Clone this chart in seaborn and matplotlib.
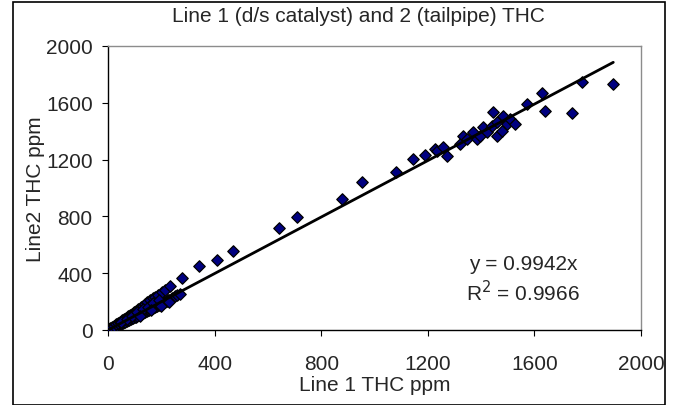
import numpy as np
import pandas as pd
import matplotlib
matplotlib.use('Agg')
import matplotlib.pyplot as plt
import seaborn as sns
from matplotlib.patches import Rectangle

# --- data (ppm) ---
# lower band along the trend line, 0-270 ppm
low_x = [5, 10, 15, 20, 25, 30, 35, 40, 45, 50, 55, 60, 65, 70, 75, 80, 85, 90, 95, 100,
         105, 110, 115, 120, 125, 130, 135, 140, 145, 150, 155, 160, 165, 170, 175, 180,
         185, 190, 195, 200, 205, 210, 215, 220, 225, 230, 240, 250, 260, 270]
low_y = [5, 8, 12, 15, 22, 26, 30, 36, 40, 44, 50, 55, 58, 64, 68, 72, 78, 82, 86, 92,
         95, 100, 104, 110, 114, 118, 124, 128, 134, 138, 142, 148, 152, 158, 162, 166,
         172, 176, 180, 186, 190, 195, 200, 206, 210, 214, 222, 236, 246, 254]
# upper band (line 2 above line 1)
up_x = [8, 15, 22, 30, 38, 45, 52, 60, 68, 75, 82, 90, 98, 105, 114, 122, 130, 139, 148,
        158, 168, 176, 188, 201, 215, 233, 279]
up_y = [14, 22, 30, 40, 50, 58, 68, 78, 88, 98, 106, 116, 128, 136, 150, 160, 172, 186, 196,
        210, 222, 234, 248, 265, 285, 312, 366]
mid_x = [50, 70, 90, 110, 130, 150, 170, 190, 120, 160, 200, 230]
mid_y = [55, 80, 100, 125, 145, 165, 190, 210, 100, 140, 170, 200]
# scattered mid-range points
sc_x = [341, 410, 470, 642, 708, 877, 954, 1080, 1143, 1190]
sc_y = [448, 495, 558, 718, 793, 922, 1040, 1110, 1204, 1232]
# high cluster
hi_x = [1227, 1233, 1258, 1271, 1321, 1333, 1346, 1371, 1383, 1396, 1408, 1421, 1440, 1446,
        1458, 1458, 1477, 1483, 1496, 1508, 1527, 1571, 1627, 1640, 1740, 1777, 1896]
hi_y = [1275, 1263, 1286, 1228, 1310, 1369, 1345, 1392, 1345, 1369, 1427, 1392, 1439, 1533,
        1462, 1369, 1404, 1509, 1451, 1486, 1451, 1590, 1667, 1544, 1526, 1744, 1735]

slope = 0.9942
r2 = 0.9966

df = pd.DataFrame({
    'line1': low_x + up_x + mid_x + sc_x + hi_x,
    'line2': low_y + up_y + mid_y + sc_y + hi_y,
})

sns.set_style('white')
plt.rcParams['font.family'] = ['Liberation Sans', 'DejaVu Sans']
fs = 15

fig = plt.figure(figsize=(6.75, 4.06), dpi=100)
ax = fig.add_axes([108 / 675, 1 - 331 / 406, (641 - 108) / 675, (331 - 47) / 406])

sns.scatterplot(data=df, x='line1', y='line2', marker='D', s=34, color='#000080',
                edgecolor='black', linewidth=0.9, ax=ax, zorder=3, legend=False)

# trend line through origin
xl = np.array([0, df['line1'].max()])
ax.plot(xl, slope * xl, color='black', lw=2, zorder=4)

ax.set_xlim(0, 2000)
ax.set_ylim(0, 2000)
ax.set_xticks(range(0, 2001, 400))
ax.set_yticks(range(0, 2001, 400))
ax.tick_params(axis='both', direction='out', length=4, width=0.8, labelsize=fs,
               color='black', left=True, bottom=True)
ax.tick_params(axis='x', pad=13)
ax.tick_params(axis='y', pad=7)
for s in ['left', 'bottom']:
    ax.spines[s].set_color('black')
    ax.spines[s].set_linewidth(1)
for s in ['top', 'right']:
    ax.spines[s].set_color('#8c8c8c')
    ax.spines[s].set_linewidth(1)

ax.set_xlabel('Line 1 THC ppm', fontsize=fs, labelpad=2)
ax.set_ylabel('Line2 THC ppm', fontsize=fs, labelpad=1)

fig.text(358 / 675, 1 - 17 / 406, 'Line 1 (d/s catalyst) and 2 (tailpipe) THC',
         ha='center', va='center', fontsize=fs)
fig.text(523 / 675, 1 - 265 / 406, 'y = %.4fx' % slope, ha='center', va='center', fontsize=fs)
fig.text(523 / 675, 1 - 293 / 406, 'R$^2$ = %.4f' % r2, ha='center', va='center', fontsize=fs)

# outer chart frame
fig.patches.append(Rectangle((13 / 675, 0.5 / 406), (665 - 13) / 675, (403 - 0.5) / 406,
                             transform=fig.transFigure, fill=False, edgecolor='black', lw=1.2))

fig.savefig('out.png', dpi=100)
